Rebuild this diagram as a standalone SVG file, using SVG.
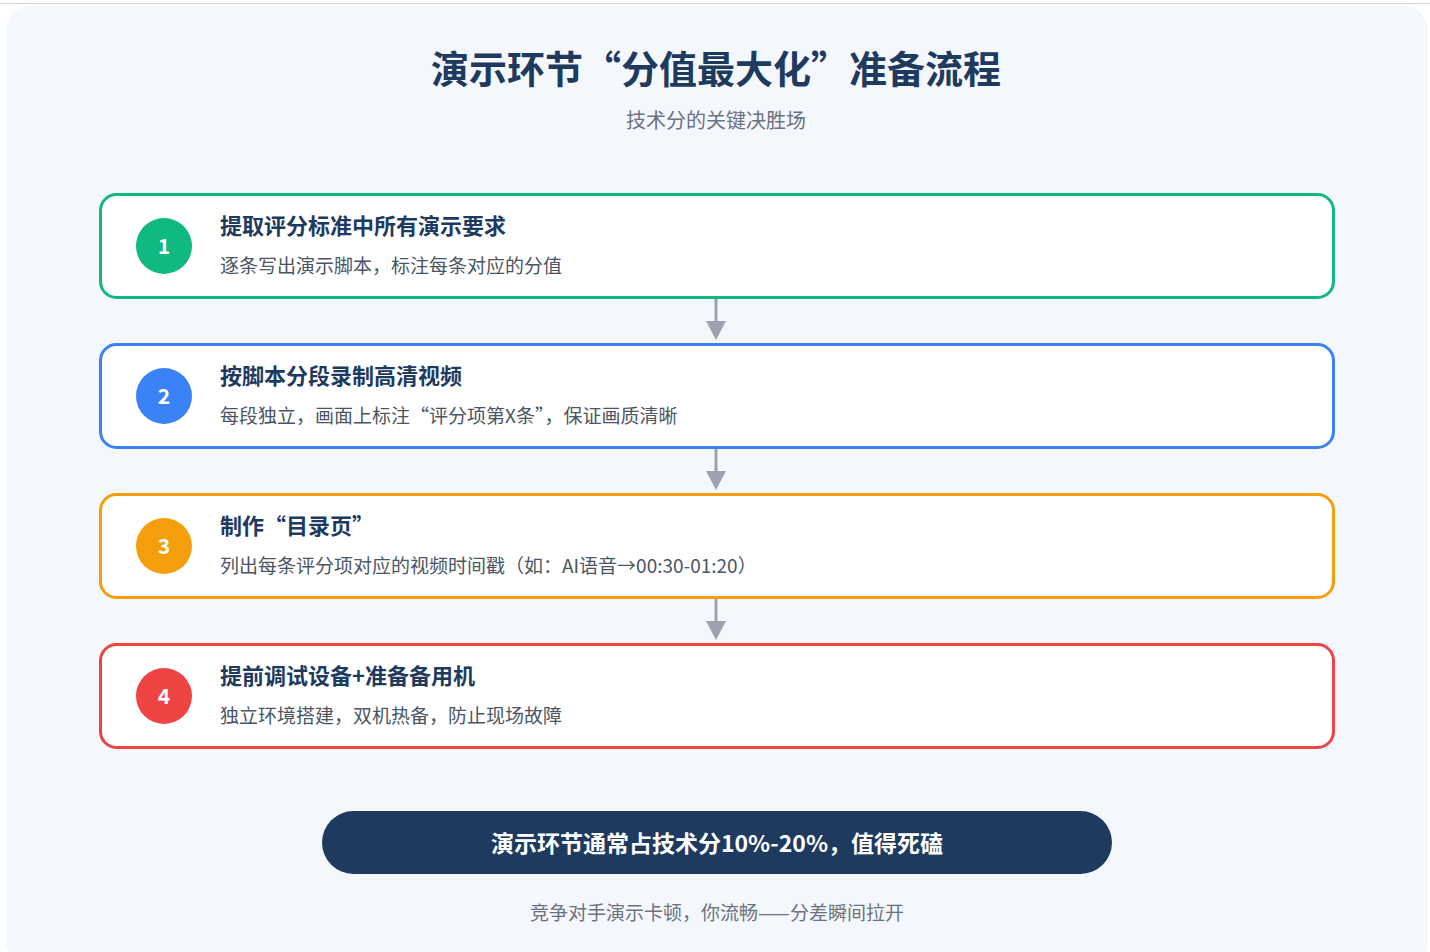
<svg xmlns="http://www.w3.org/2000/svg" width="1430" height="952" viewBox="0 0 1430 952">
<style>
.t{font-family:"Noto Sans CJK SC","Noto Sans",sans-serif}
.card{fill:#fff;stroke-width:3}
.h{font-size:22px;font-weight:700;fill:#1e3a5f}
.d{font-size:19px;fill:#4b5563}
.n{font-size:21px;font-weight:700;fill:#fff;text-anchor:middle}
</style>
<defs><marker id="a" markerWidth="10" markerHeight="10" refX="5" refY="0" orient="auto" markerUnits="userSpaceOnUse" viewBox="0 0 10 10"><path d="M0,0 L10,0 L5,10Z" fill="#9ca3af" transform="scale(1)"/></marker></defs>
<rect width="1430" height="952" fill="#fff"/>
<rect x="0" y="3" width="1430" height="1" fill="#d1d5db"/>
<rect x="6" y="6" width="1422" height="960" rx="24" fill="#f4f7fb"/>
<text class="t" x="716" y="83" text-anchor="middle" font-size="38" font-weight="700" fill="#1e3a5f">演示环节“分值最大化”准备流程</text>
<text class="t" x="716" y="128" text-anchor="middle" font-size="20" fill="#6b7280">技术分的关键决胜场</text>
<g id="connectors" fill="#9ca3af" stroke="#9ca3af">
<line x1="716" y1="298" x2="716" y2="323" stroke-width="3"/><path d="M706,321 L726,321 L716,340Z" stroke="none"/>
<line x1="716" y1="448" x2="716" y2="473" stroke-width="3"/><path d="M706,471 L726,471 L716,490Z" stroke="none"/>
<line x1="716" y1="598" x2="716" y2="623" stroke-width="3"/><path d="M706,621 L726,621 L716,640Z" stroke="none"/>
</g>
<g id="n1"><rect class="card" x="100.5" y="194.5" width="1233" height="103" rx="16" stroke="#10b981"/><circle cx="164" cy="246" r="28" fill="#10b981"/><text class="t n" x="164" y="254">1</text><text class="t h" x="220" y="234">提取评分标准中所有演示要求</text><text class="t d" x="220" y="273">逐条写出演示脚本，标注每条对应的分值</text></g>
<g id="n2"><rect class="card" x="100.5" y="344.5" width="1233" height="103" rx="16" stroke="#3b82f6"/><circle cx="164" cy="396" r="28" fill="#3b82f6"/><text class="t n" x="164" y="404">2</text><text class="t h" x="220" y="384">按脚本分段录制高清视频</text><text class="t d" x="220" y="423">每段独立，画面上标注“评分项第X条”，保证画质清晰</text></g>
<g id="n3"><rect class="card" x="100.5" y="494.5" width="1233" height="103" rx="16" stroke="#f59e0b"/><circle cx="164" cy="546" r="28" fill="#f59e0b"/><text class="t n" x="164" y="554">3</text><text class="t h" x="220" y="534">制作“目录页”</text><text class="t d" x="220" y="573">列出每条评分项对应的视频时间戳（如：AI语音→00:30-01:20）</text></g>
<g id="n4"><rect class="card" x="100.5" y="644.5" width="1233" height="103" rx="16" stroke="#ef4444"/><circle cx="164" cy="696" r="28" fill="#ef4444"/><text class="t n" x="164" y="704">4</text><text class="t h" x="220" y="684">提前调试设备+准备备用机</text><text class="t d" x="220" y="723">独立环境搭建，双机热备，防止现场故障</text></g>
<g id="banner"><rect x="322" y="811" width="790" height="63" rx="31.5" fill="#1e3a5f"/><text class="t" x="717" y="852" text-anchor="middle" font-size="23" font-weight="700" fill="#fff">演示环节通常占技术分10%-20%，值得死磕</text></g>
<text class="t" x="717" y="920" text-anchor="middle" font-size="19" fill="#6b7280">竞争对手演示卡顿，你流畅——分差瞬间拉开</text>
</svg>
